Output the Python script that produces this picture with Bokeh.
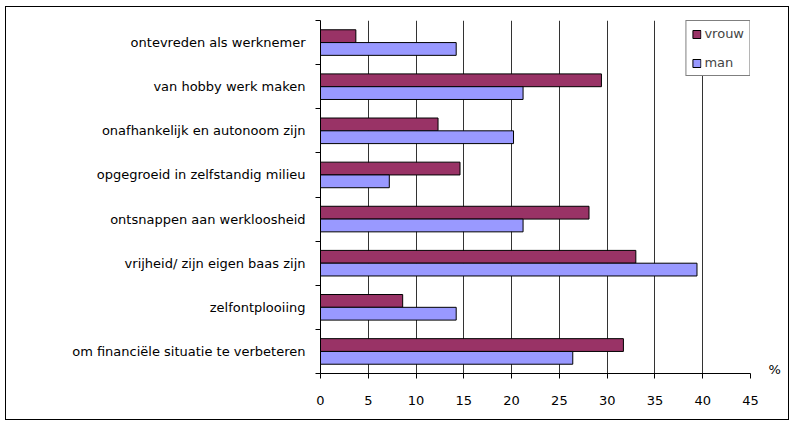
from bokeh.plotting import figure
from bokeh.models import ColumnDataSource, FixedTicker, Range1d, Legend, LegendItem, LinearAxis
from bokeh.transform import dodge
from bokeh.embed import file_html
from bokeh.resources import INLINE

categories = [
    "ontevreden als werknemer",
    "van hobby werk maken",
    "onafhankelijk en autonoom zijn",
    "opgegroeid in zelfstandig milieu",
    "ontsnappen aan werkloosheid",
    "vrijheid/ zijn eigen baas zijn",
    "zelfontplooiing",
    "om financiële situatie te verbeteren",
]
vrouw = [3.7, 29.4, 12.3, 14.6, 28.1, 33.0, 8.6, 31.7]
man = [14.2, 21.2, 20.2, 7.2, 21.2, 39.4, 14.2, 26.4]
x_ticks = [0, 5, 10, 15, 20, 25, 30, 35, 40, 45]
unit_label = "%"

n = len(categories)
ypos = [n - i - 0.5 for i in range(n)]
src = ColumnDataSource(dict(y=ypos, vrouw=vrouw, man=man, cat=categories))

FONT = "DejaVu Sans"
FS = "13px"

p = figure(width=784, height=414, output_backend="svg", toolbar_location=None,
           x_range=Range1d(0, 45), y_range=Range1d(0, n),
           min_border_left=314, min_border_right=40, min_border_top=13, min_border_bottom=48)
p.styles = {"border": "1px solid #000000", "margin-left": "5px", "margin-top": "6px"}
p.outline_line_color = None
p.background_fill_color = "white"

bw = 0.29
rv = p.hbar(y=dodge("y", bw / 2, range=p.y_range), left=0, right="vrouw", height=bw,
            source=src, fill_color="#993366", line_color="#000000", line_width=1)
rm = p.hbar(y=dodge("y", -bw / 2, range=p.y_range), left=0, right="man", height=bw,
            source=src, fill_color="#9999FF", line_color="#000000", line_width=1)

# x axis
p.xaxis.ticker = FixedTicker(ticks=x_ticks)
p.xaxis.major_tick_out = 5
p.xaxis.major_tick_in = 0
p.xaxis.minor_tick_line_color = None
p.xaxis.major_label_standoff = 17
p.xaxis.major_label_text_font = FONT
p.xaxis.major_label_text_font_size = FS
p.xaxis.major_label_text_color = "#000000"
p.xaxis.axis_line_color = "#000000"
p.xaxis.major_tick_line_color = "#000000"

# y axis
p.yaxis.ticker = FixedTicker(ticks=ypos, minor_ticks=list(range(n + 1)))
p.yaxis.major_label_overrides = {y: c for y, c in zip(ypos, categories)}
p.yaxis.major_tick_line_color = None
p.yaxis.minor_tick_out = 5
p.yaxis.minor_tick_in = 0
p.yaxis.minor_tick_line_color = "#000000"
p.yaxis.axis_line_color = "#000000"
p.yaxis.major_label_standoff = 9
p.yaxis.major_label_text_font = FONT
p.yaxis.major_label_text_font_size = FS
p.yaxis.major_label_text_color = "#000000"

# unit label "%" at the end of the x axis, via a right-side axis
unit_axis = LinearAxis(ticker=FixedTicker(ticks=[0.1]), major_label_overrides={0.1: unit_label},
                       axis_line_color=None, major_tick_line_color=None,
                       minor_tick_line_color=None, major_label_standoff=12,
                       major_label_text_font=FONT, major_label_text_font_size=FS,
                       major_label_text_color="#000000")
p.add_layout(unit_axis, "right")

p.xgrid.grid_line_color = "#333333"
p.xgrid.grid_line_width = 1
p.ygrid.visible = False

legend = Legend(items=[LegendItem(label="vrouw", renderers=[rv]),
                       LegendItem(label="man", renderers=[rm])],
                location="top_right", margin=0, padding=5, spacing=14,
                glyph_width=10, glyph_height=10, label_height=12,
                label_standoff=3, label_text_font=FONT, label_text_font_size=FS,
                border_line_color="#000000", border_line_width=1,
                background_fill_color="white", background_fill_alpha=1)
p.add_layout(legend)

open("out.html", "w").write(file_html(p, INLINE))
